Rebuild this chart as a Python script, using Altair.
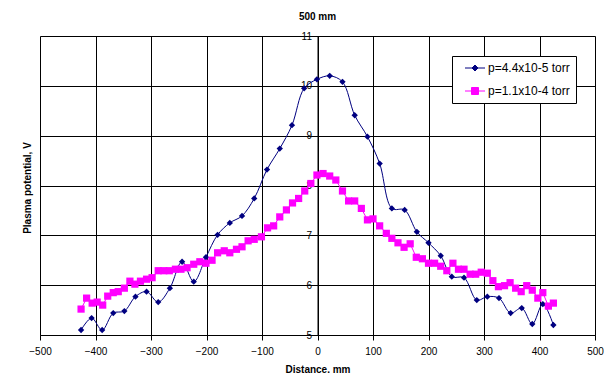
import altair as alt
import pandas as pd

# ---- data ----
blue_label = "p=4.4x10-5 torr"
pink_label = "p=1.1x10-4 torr"

blue_x = [-426, -407, -388, -368, -348, -328, -308, -287, -266, -244, -223, -201, -180, -158,
          -136, -114, -91, -68, -46, -24, -1, 22, 45, 67, 90, 112, 134, 157, 179, 200, 222,
          242, 264, 287, 306, 327, 348, 368, 387, 406, 425]
blue_y = [5.10, 5.34, 5.10, 5.44, 5.48, 5.77, 5.87, 5.66, 5.94, 6.47, 6.07, 6.56, 7.01, 7.25,
          7.39, 7.74, 8.32, 8.74, 9.21, 9.95, 10.13, 10.20, 10.08, 9.41, 8.98, 8.44, 7.54, 7.51,
          7.07, 6.85, 6.59, 6.17, 6.15, 5.70, 5.77, 5.74, 5.44, 5.54, 5.22, 5.62, 5.20]

pink_x = [-426, -416, -406, -397, -387, -378, -368, -359, -348, -338, -329, -319, -308, -298,
          -287, -277, -267, -256, -246, -235, -223, -212, -201, -190, -180, -168, -158, -146,
          -136, -125, -114, -101, -90, -79, -68, -56, -45, -34, -23, -12, -1, 10, 22, 33, 45,
          56, 67, 79, 90, 100, 112, 124, 134, 145, 156, 167, 178, 189, 200, 211, 222, 233,
          244, 254, 264, 275, 285, 295, 306, 316, 326, 337, 347, 357, 367, 377, 387, 397,
          406, 416, 425]
pink_y = [5.52, 5.74, 5.64, 5.66, 5.60, 5.78, 5.85, 5.87, 5.94, 6.08, 6.02, 6.08, 6.12, 6.15,
          6.29, 6.29, 6.29, 6.32, 6.32, 6.35, 6.42, 6.47, 6.44, 6.50, 6.65, 6.69, 6.65, 6.72,
          6.77, 6.89, 6.92, 6.97, 7.15, 7.19, 7.37, 7.51, 7.65, 7.74, 7.89, 8.04, 8.21, 8.24,
          8.19, 8.11, 7.89, 7.69, 7.69, 7.54, 7.31, 7.33, 7.19, 7.04, 6.94, 6.85, 6.76, 6.83,
          6.56, 6.53, 6.44, 6.44, 6.38, 6.29, 6.44, 6.32, 6.32, 6.22, 6.22, 6.26, 6.24, 6.09,
          5.97, 5.99, 6.05, 5.94, 5.87, 5.99, 5.90, 5.74, 5.85, 5.58, 5.64]

x_ticks = [-500, -400, -300, -200, -100, 0, 100, 200, 300, 400, 500]
y_ticks = [5, 6, 7, 8, 9, 10, 11]

series = [blue_label, pink_label]
colors = ["#000080", "#FF00FF"]

df = pd.concat([
    pd.DataFrame({"x": blue_x, "y": blue_y, "series": blue_label}),
    pd.DataFrame({"x": pink_x, "y": pink_y, "series": pink_label}),
], ignore_index=True)

FONT = "Liberation Sans"
W, H = 555, 299
LEFT = 32

# legend symbols: a short line with the marker on it
legend_paths = ["M-2,0L2,0M0,-0.6L0.6,0L0,0.6L-0.6,0Z",
                "M-2,0L2,0M-0.7,-0.7L0.7,-0.7L0.7,0.7L-0.7,0.7Z"]

x_enc = alt.X("x:Q", scale=alt.Scale(domain=[-500, 500], nice=False),
              axis=alt.Axis(values=x_ticks, title="Distance. mm", grid=True,
                            gridColor="black", gridOpacity=1, gridWidth=1,
                            domainColor="black", tickColor="black", tickSize=5,
                            labelColor="black", labelFontSize=10, labelFont=FONT,
                            labelPadding=6, titleFont=FONT, titleFontSize=10,
                            titleFontWeight="bold", titleColor="black", titlePadding=8,
                            labelFlush=False))
y_enc = alt.Y("y:Q", scale=alt.Scale(domain=[5, 11], nice=False),
              axis=alt.Axis(values=y_ticks, title="Plasma potential, V", grid=True,
                            gridColor="black", gridOpacity=1, gridWidth=1,
                            offset=-W / 2, domainColor="black", tickColor="black",
                            tickSize=4, labelColor="black", labelFontSize=10,
                            labelFont=FONT, labelPadding=2, labelFlush=False,
                            titleFont=FONT, titleFontSize=10, titleFontWeight="bold",
                            titleColor="black", titleX=27 - (LEFT + 8) - W / 2,
                            titleY=H / 2 + 2, titleBaseline="middle", titleAngle=270,
                            titleAlign="center"))

legend = alt.Legend(title=None, orient="none", legendX=452 - (LEFT + 8), legendY=20,
                    strokeColor="black", fillColor="white", padding=6,
                    labelFont=FONT, labelFontSize=12, labelColor="black",
                    symbolSize=100, symbolOffset=11, labelOffset=7,
                    rowPadding=11, symbolStrokeWidth=1, symbolOpacity=1)

color_enc = alt.Color("series:N", scale=alt.Scale(domain=series, range=colors), legend=legend)
stroke_enc = alt.Stroke("series:N", scale=alt.Scale(domain=series, range=colors), legend=legend)
shape_enc = alt.Shape("series:N", scale=alt.Scale(domain=series, range=legend_paths), legend=legend)

base = alt.Chart(df)
blue = base.transform_filter(alt.datum.series == blue_label)
pink = base.transform_filter(alt.datum.series == pink_label)

blue_line = blue.mark_line(strokeWidth=1, interpolate="catmull-rom").encode(
    x=x_enc, y=y_enc, color=color_enc)
blue_pts = blue.mark_point(filled=True, size=40, opacity=1, shape="diamond").encode(
    x=x_enc, y=y_enc, color=color_enc)
pink_line = pink.mark_line(strokeWidth=1).encode(x=x_enc, y=y_enc, color=color_enc)
pink_pts = pink.mark_point(filled=True, size=52, opacity=1, shape="square").encode(
    x=x_enc, y=y_enc, color=color_enc)
# empty layer that only carries the legend
legend_layer = base.transform_filter("false").mark_point(filled=True, opacity=1).encode(
    x=x_enc, y=y_enc, color=color_enc, stroke=stroke_enc, shape=shape_enc)

chart = alt.layer(blue_line, blue_pts, pink_line, pink_pts, legend_layer).properties(
    width=W, height=H,
    title=alt.TitleParams("500 mm", font=FONT, fontSize=10, fontWeight="bold",
                          color="black", offset=9, anchor="middle"),
    autosize=alt.AutoSizeParams(type="none"),
    padding={"left": LEFT, "top": 28, "right": 596 - LEFT - W, "bottom": 42},
).configure_view(stroke="black", strokeWidth=1).configure(background="white")

chart.save("out.html", embed_options={"renderer": "svg", "actions": False})
